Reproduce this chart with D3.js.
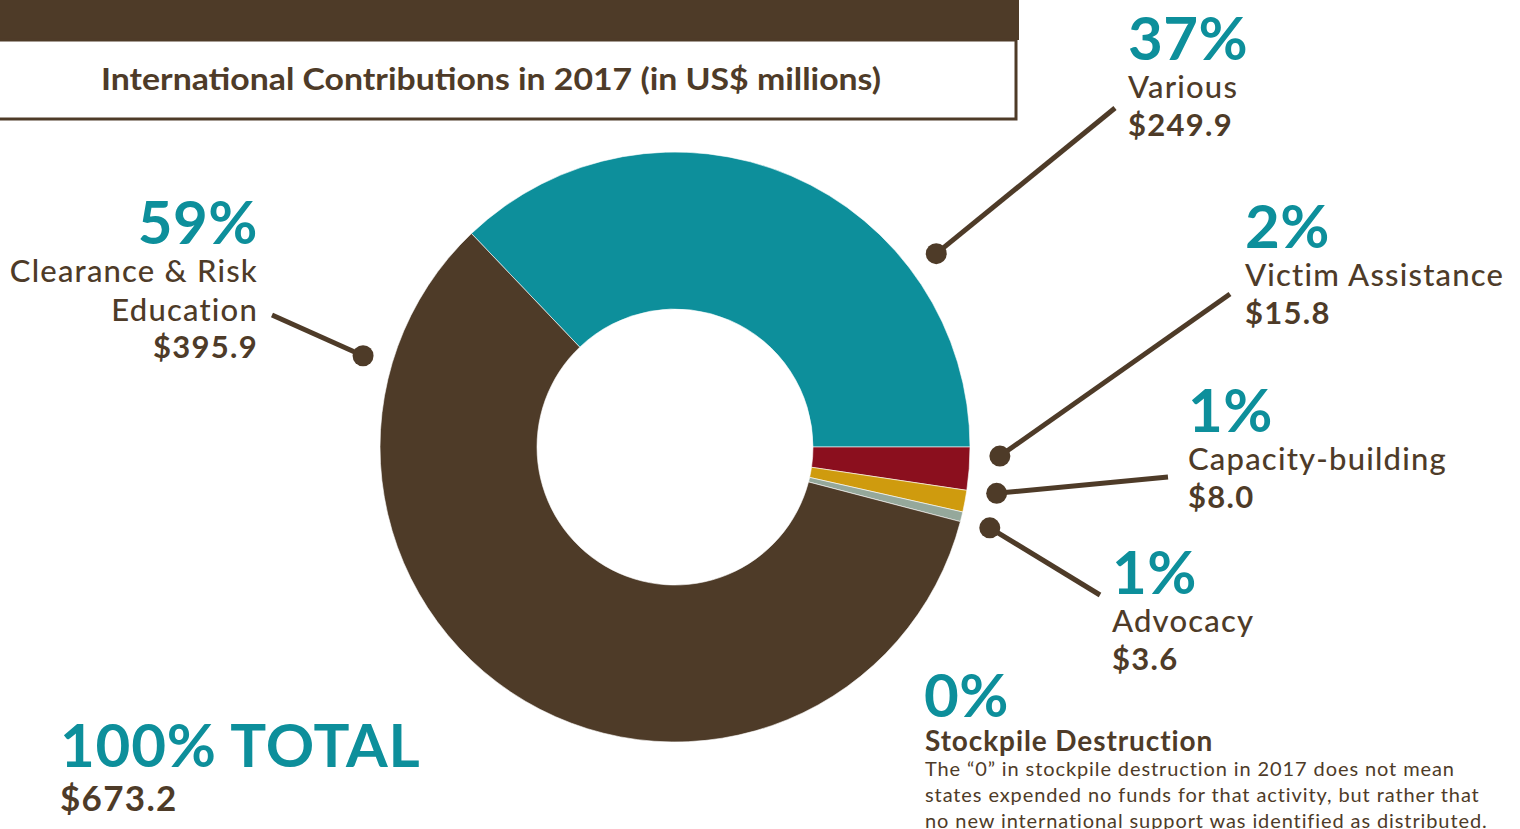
<!DOCTYPE html>
<html>
<head>
<meta charset="utf-8">
<script src="https://cdn.jsdelivr.net/npm/d3@7"></script>
<style>
  html, body { margin: 0; padding: 0; background: #fff; }
  svg { display: block; font-family: Lato, "Noto Sans", sans-serif; }
</style>
</head>
<body>
<svg id="chart" width="1520" height="829"></svg>
<script>
// categorias e valores (US$ milhoes)
var categories = ["Various", "Victim Assistance", "Capacity-building", "Advocacy", "Stockpile Destruction", "Clearance & Risk Education"];
var values = [249.9, 15.8, 8.0, 3.6, 0, 395.9];
var percentLabels = ["37%", "2%", "1%", "1%", "0%", "59%"];
var amountLabels = ["$249.9", "$15.8", "$8.0", "$3.6", "", "$395.9"];
var colors = ["#0d8f9b", "#8b0f1e", "#cf9b0e", "#95a89b", "#6b6b6b", "#4e3b28"];
var totalLabel = "100% TOTAL";
var totalAmount = "$673.2";
var title = "International Contributions in 2017 (in US$ millions)";
var note = ["The \u201c0\u201d in stockpile destruction in 2017 does not mean",
            "states expended no funds for that activity, but rather that",
            "no new international support was identified as distributed."];

var brown = "#4e3b28", teal = "#0d8f9b";

(function(d3){

    var svg = d3.select("#chart");

    // faixa do topo + caixa do titulo
    svg.append("rect").attr("x", 0).attr("y", 0).attr("width", 1019).attr("height", 40).style("fill", brown);
    svg.append("rect").attr("x", -10).attr("y", 40).attr("width", 1026).attr("height", 79)
        .style("fill", "#fff").style("stroke", brown).style("stroke-width", 3);
    svg.append("text").attr("x", 491).attr("y", 90).attr("text-anchor", "middle")
        .attr("textLength", 780).attr("lengthAdjust", "spacingAndGlyphs")
        .style("font-size", "31px").style("font-weight", 700).style("fill", brown)
        .text(title);

    // rosca
    var cx = 675, cy = 447, rOuter = 295, rInner = 138;
    var totalValue = d3.sum(values);
    var angle = d3.scaleLinear().domain([0, totalValue]).range([0, 2 * Math.PI]);
    var startAngle = Math.PI / 2 - angle(values[0]);

    var pie = d3.pie().sort(null).value(function(d){ return d; })
        .startAngle(startAngle).endAngle(startAngle + 2 * Math.PI);
    var arc = d3.arc().innerRadius(rInner).outerRadius(rOuter);

    var g = svg.append("g").attr("transform", "translate(" + cx + "," + cy + ")");
    var arcs = pie(values);
    g.selectAll("path").data(arcs.filter(function(d){ return d.value > 0; }))
        .enter().append("path")
        .attr("d", arc)
        .style("fill", function(d){ return colors[d.index]; })
        .style("stroke", "#fff").style("stroke-width", 0.6);

    // chamadas: angulo do ponto (em graus), ponta da linha e posicao do texto
    var callouts = [
        {i: 0, dotAng: 53.5,  end: [1115, 108], x: 1128, y: 60,  anchor: "start"},
        {i: 1, dotAng: 91.6,  end: [1230, 294], x: 1245, y: 248, anchor: "start"},
        {i: 2, dotAng: 98.2,  end: [1168, 477], x: 1188, y: 432, anchor: "start"},
        {i: 3, dotAng: 104.4, end: [1100, 595], x: 1112, y: 594, anchor: "start"},
        {i: 5, dotAng: 286.3, end: [272, 315],  x: 258,  y: 244, anchor: "end"}
    ];
    var rDot = 325;

    callouts.forEach(function(c){
        var a = c.dotAng * Math.PI / 180;
        var px = cx + rDot * Math.sin(a), py = cy - rDot * Math.cos(a);
        svg.append("line").attr("x1", px).attr("y1", py).attr("x2", c.end[0]).attr("y2", c.end[1])
            .style("stroke", brown).style("stroke-width", 5);
        svg.append("circle").attr("cx", px).attr("cy", py).attr("r", 10.5).style("fill", brown);

        var t = svg.append("g").attr("text-anchor", c.anchor);
        t.append("text").attr("x", c.x).attr("y", c.y)
            .style("font-size", "60px").style("font-weight", 700).style("fill", teal)
            .style("letter-spacing", "0.5px")
            .text(percentLabels[c.i]);
        var lines = c.i === 5 ? ["Clearance & Risk", "Education"] : [categories[c.i]];
        lines.forEach(function(l, k){
            t.append("text").attr("x", c.x).attr("y", c.y + 38 + k * 39)
                .style("font-size", "31px").style("font-weight", 500).style("fill", brown)
                .style("letter-spacing", "1.2px")
                .text(l);
        });
        t.append("text").attr("x", c.x).attr("y", c.y + 38 + lines.length * 38)
            .style("font-size", "31px").style("font-weight", 700).style("fill", brown)
            .style("letter-spacing", "1.3px")
            .text(amountLabels[c.i]);
    });

    // stockpile (0%)
    svg.append("text").attr("x", 924).attr("y", 717)
        .style("font-size", "60px").style("font-weight", 700).style("fill", teal)
        .style("letter-spacing", "0.5px")
        .text(percentLabels[4]);
    svg.append("text").attr("x", 925).attr("y", 751)
        .style("font-size", "28px").style("font-weight", 700).style("fill", brown)
        .style("letter-spacing", "0.9px")
        .text(categories[4]);
    note.forEach(function(l, k){
        svg.append("text").attr("x", 925).attr("y", 776 + k * 26)
            .style("font-size", "20px").style("fill", brown)
            .style("letter-spacing", "0.9px")
            .text(l);
    });

    // total
    svg.append("text").attr("x", 60).attr("y", 767)
        .style("font-size", "60px").style("font-weight", 700).style("fill", teal)
        .style("letter-spacing", "0.8px")
        .text(totalLabel);
    svg.append("text").attr("x", 60).attr("y", 811)
        .style("font-size", "35px").style("font-weight", 700).style("fill", brown)
        .style("letter-spacing", "1.3px")
        .text(totalAmount);

})(d3);
</script>
</body>
</html>
